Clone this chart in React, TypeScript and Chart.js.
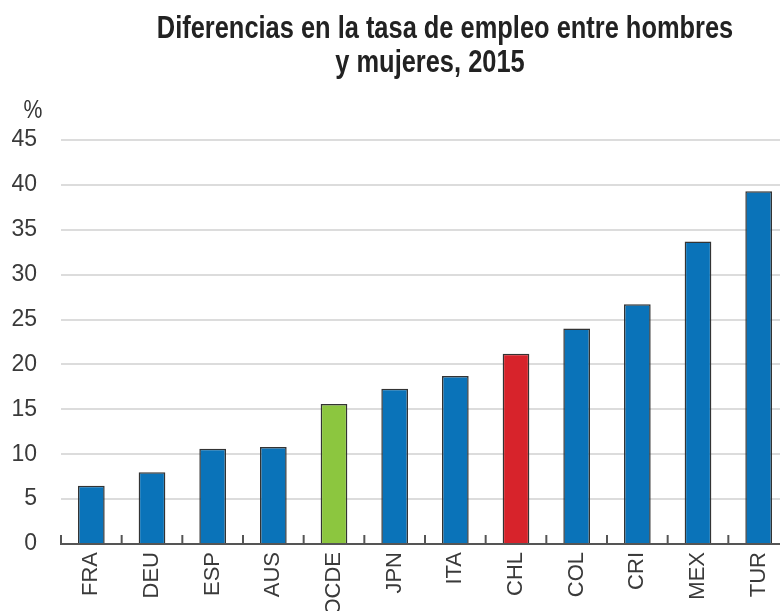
import React, { useEffect, useRef } from "react";
import { Chart, registerables } from "chart.js";

Chart.register(...registerables);

const categories = ["FRA", "DEU", "ESP", "AUS", "OCDE", "JPN", "ITA", "CHL", "COL", "CRI", "MEX", "TUR"];
const values = [6.5, 8.0, 10.6, 10.8, 15.6, 17.3, 18.7, 21.2, 24.0, 26.7, 33.7, 39.3];
const barColors = ["#0a73b9", "#0a73b9", "#0a73b9", "#0a73b9", "#8cc63f", "#0a73b9", "#0a73b9", "#d7232b", "#0a73b9", "#0a73b9", "#0a73b9", "#0a73b9"];
const titleLines = ["Diferencias en la tasa de empleo entre hombres", "y mujeres, 2015"];
const unitLabel = "%";
const yMin = 0;
const yMax = 45;
const yStep = 5;

const FONT = '"Liberation Sans Narrow", "Arial Narrow", "Liberation Sans", Arial, sans-serif';

function drawNarrow(ctx: any, text: string, x: number, y: number, sx: number) {
  ctx.save();
  ctx.translate(x, y);
  ctx.scale(sx, 1);
  ctx.fillText(text, 0, 0);
  ctx.restore();
}

const decorPlugin = {
  id: "decor",
  afterDraw(chart: any) {
    const ctx = chart.ctx;
    const xs = chart.scales.x;
    const ys = chart.scales.y;
    const area = chart.chartArea;
    ctx.save();
    // inner tick marks at category boundaries
    const half = (xs.getPixelForValue(1) - xs.getPixelForValue(0)) / 2;
    ctx.strokeStyle = "#555555";
    ctx.lineWidth = 2;
    const y0 = ys.getPixelForValue(0);
    for (let i = 0; i <= categories.length; i++) {
      const x = xs.getPixelForValue(i) - half;
      ctx.beginPath();
      ctx.moveTo(x, y0);
      ctx.lineTo(x, y0 - 9);
      ctx.stroke();
    }
    // title (condensed look)
    ctx.fillStyle = "#222222";
    ctx.font = `bold 31px ${FONT}`;
    ctx.textAlign = "center";
    ctx.textBaseline = "alphabetic";
    const cx = (area.left + area.right) / 2;
    drawNarrow(ctx, titleLines[0], cx + 20, 38, 0.82);
    drawNarrow(ctx, titleLines[1], cx + 5, 72, 0.82);
    // unit label
    ctx.fillStyle = "#333333";
    ctx.font = `25px ${FONT}`;
    drawNarrow(ctx, unitLabel, 33, 118, 0.85);
    ctx.restore();
  },
};

export default function App() {
  const ref = useRef<HTMLCanvasElement>(null);
  useEffect(() => {
    if (!ref.current) return;
    const chart = new Chart(ref.current, {
      type: "bar",
      data: {
        labels: categories,
        datasets: [
          {
            data: values,
            backgroundColor: barColors,
            borderColor: "#333333",
            borderWidth: 1.5,
            barPercentage: 0.44,
            categoryPercentage: 1,
          },
        ],
      },
      options: {
        animation: false,
        responsive: true,
        maintainAspectRatio: false,
        layout: { padding: { top: 140, left: 0, right: 0, bottom: 0 } },
        plugins: {
          legend: { display: false },
          tooltip: { enabled: false },
          title: { display: false },
        },
        scales: {
          x: {
            afterFit: (s: any) => {
              s.height = 67;
              s.paddingLeft = 0;
              s.paddingRight = 0;
            },
            grid: { display: false, drawTicks: false },
            border: { display: true, color: "#555555", width: 2 },
            ticks: {
              autoSkip: false,
              minRotation: 90,
              maxRotation: 90,
              padding: 8,
              color: "#3a3a3a",
              font: { family: FONT, size: 22 },
            },
          },
          y: {
            min: yMin,
            max: yMax,
            afterFit: (s: any) => {
              s.width = 61;
            },
            border: { display: false },
            grid: {
              drawTicks: false,
              lineWidth: 2,
              color: (c: any) => (c.tick && c.tick.value === 0 ? "rgba(0,0,0,0)" : "#dcdcdc"),
            },
            ticks: {
              stepSize: yStep,
              padding: 24,
              color: "#3a3a3a",
              font: { family: FONT, size: 23 },
            },
          },
        },
      },
      plugins: [decorPlugin],
    });
    return () => chart.destroy();
  }, []);
  return (
    <div style={{ position: "fixed", left: 0, top: 0, width: 780, height: 611, overflow: "hidden", background: "#fff" }}>
      <div style={{ position: "absolute", left: 0, top: 0, width: 789, height: 611 }}>
        <canvas ref={ref} />
      </div>
    </div>
  );
}
